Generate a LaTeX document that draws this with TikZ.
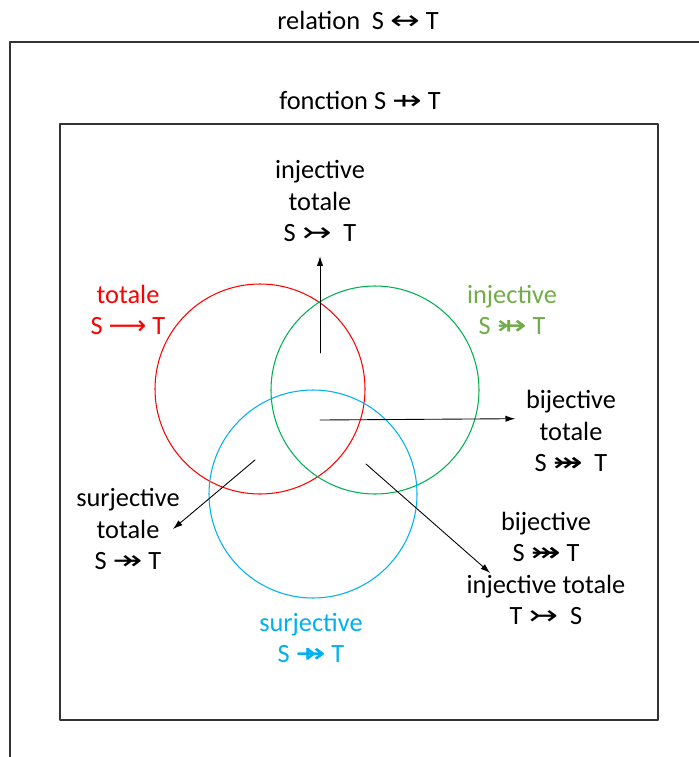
\documentclass[tikz,border=0pt]{standalone}
\usepackage{fontspec}
\usepackage{graphicx}
\setmainfont{Carlito}
\newfontfamily\arrowfont{DejaVu Sans}
\usetikzlibrary{arrows.meta}

\newcommand{\rel}[1]{\scalebox{1.35}[1]{\arrowfont #1}}
% arrows that no font has: laid over one another
\newcommand{\bijrel}{\rel{\rlap{↣}↠}}
\newcommand{\pinjrel}{\rel{\rlap{↣}⇸}}
\newcommand{\psurjrel}{\rel{\rlap{↠}⇸}}

\definecolor{setred}{RGB}{255,0,0}
\definecolor{setgreen}{RGB}{0,176,80}
\definecolor{txtgreen}{RGB}{112,173,71}
\definecolor{setblue}{RGB}{0,176,240}

\begin{document}
\begin{tikzpicture}[x=0.02cm,y=-0.02cm,line cap=round,line join=round,
  lbl/.style={align=center,inner sep=0pt,font=\fontsize{15}{18}\selectfont},
  box/.style={line width=0.8pt,black!80},
  pointer/.style={-{Latex[length=5.5pt,width=3.6pt]},line width=0.5pt}]
% Venn diagram of the kinds of functions S -> T

\useasboundingbox (0,0) rectangle (699,757);
\clip (0,0) rectangle (699,757);

% relation box (runs off the page) and fonction box
\draw[box] (10,42) rectangle (720,790);
\draw[box] (60,124) rectangle (658,720);

\node[lbl] (rel) at (358,20) {relation\ \ S \rel{↔} T};
\node[lbl] (fct) at (360,100) {fonction S \rel{⇸} T};

% the three sets
\coordinate (R) at (260,389);
\coordinate (G) at (375,390);
\coordinate (B) at (313,494);

\draw[setred,line width=0.6pt] (R) circle [radius=105];
\draw[setgreen,line width=0.6pt] (G) circle [radius=104];
\draw[setblue,line width=0.6pt] (B) circle [radius=104];

% set labels
\node[lbl,text=setred] (tot) at (128,310) {totale\\S {\arrowfont ⟶} T};
\node[lbl,text=txtgreen] (inj) at (512,310) {injective\\S \pinjrel{} T};
\node[lbl,text=setblue] (surj) at (311,638) {surjective\\S \psurjrel{} T};

% intersection labels
\node[lbl] (injtot) at (320,201) {injective\\totale\\S \rel{↣}\ \ T};
\node[lbl] (bijtot) at (571,431) {bijective\\totale\\S \bijrel\ \ T};
\node[lbl] (surjtot) at (128,529) {surjective\\totale\\S \rel{↠} T};
\node[lbl] (bij) at (546,537) {bijective\\S \bijrel{} T};
\node[lbl] (invinj) at (546,600) {injective totale\\T \rel{↣}\ \ S};

% points inside the regions
\coordinate (pRG) at (320,353);
\coordinate (pRGB) at (320,420);
\coordinate (pRB) at (255,460);
\coordinate (pGB) at (366,464);

\draw[pointer] (pRG) -- ([yshift=-8pt]injtot.south);
\draw[pointer] (pRGB) -- ([xshift=-6pt,yshift=7pt]bijtot.west);
\draw[pointer] (pRB) -- ([xshift=-4pt]surjtot.east);
\draw[pointer] (pGB) -- ([xshift=-6pt,yshift=-6pt]bij.south west);

\end{tikzpicture}
\end{document}
